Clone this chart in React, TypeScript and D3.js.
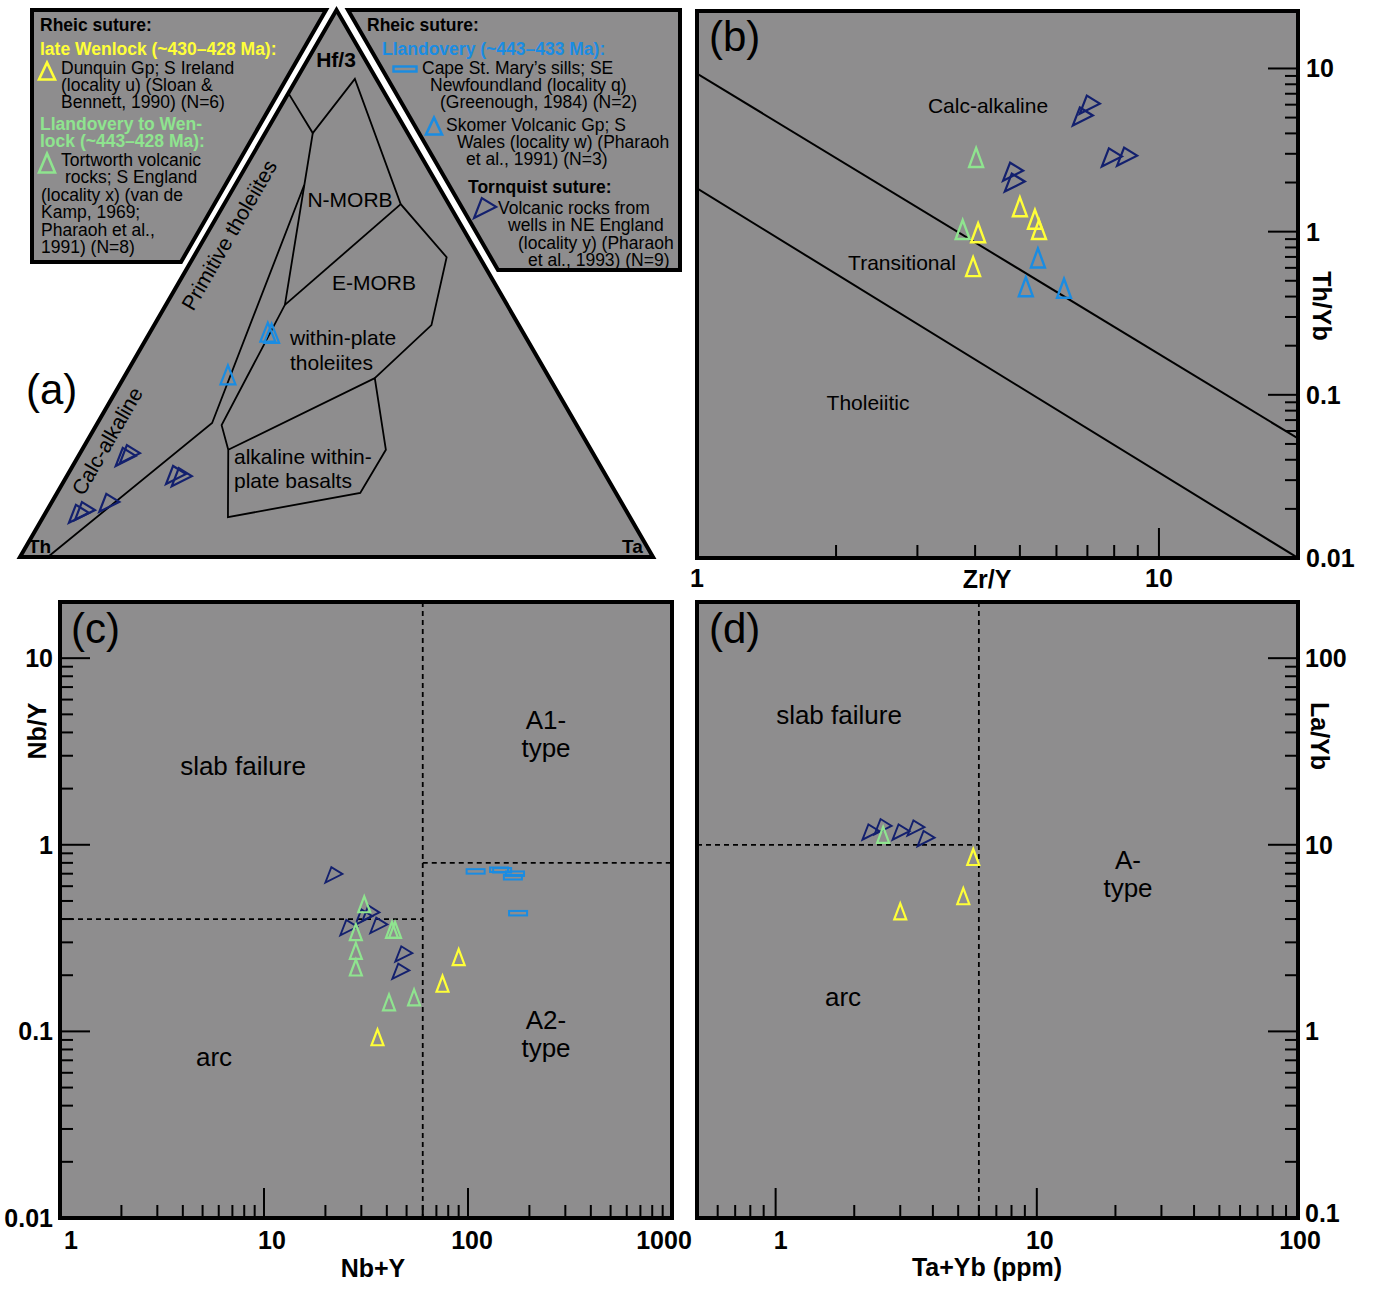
import React from "react";
import * as d3 from "d3";

const FONT = "'Liberation Sans', Arial, Helvetica, sans-serif";
const BG = "#8e8d8e";
const YELLOW = "#ffff38";
const GREEN = "#8fe48f";
const BLUE = "#1a8ce2";
const NAVY = "#13206e";

// ---------- Panel (a): Hf/3 - Th - Ta ternary  [Th, Hf/3, Ta] fractions ----------
const aSkomer = [
  [0.403, 0.411, 0.186],
  [0.398, 0.409, 0.193],
  [0.505, 0.333, 0.162],
];
const aTornquist = [
  [0.743, 0.183, 0.074],
  [0.734, 0.188, 0.078],
  [0.68, 0.15, 0.17],
  [0.673, 0.146, 0.181],
  [0.869, 0.079, 0.052],
  [0.857, 0.084, 0.059],
  [0.811, 0.099, 0.09],
];
// field boundary vertices [Th, Hf/3, Ta]
const aCalcAlkalineLine = [
  [0.956, 0, 0.044],
  [0.574, 0.245, 0.181],
  [0.211, 0.68, 0.109],
];
const aMorbOutline = [
  [0.152, 0.848, 0],
  [0.15, 0.775, 0.075],
  [0.034, 0.874, 0.092],
  [0.076, 0.645, 0.279],
  [0.052, 0.548, 0.4],
  [0.138, 0.424, 0.438],
  [0.276, 0.327, 0.397],
];
const aArcBoundary = [
  [0.15, 0.775, 0.075],
  [0.351, 0.461, 0.188],
  [0.561, 0.241, 0.198],
  [0.573, 0.196, 0.231],
];
const aEmorbBase = [
  [0.076, 0.645, 0.279],
  [0.351, 0.461, 0.188],
];
const aAlkalineBox = [
  [0.573, 0.196, 0.231],
  [0.635, 0.073, 0.292],
  [0.404, 0.117, 0.479],
  [0.324, 0.196, 0.48],
  [0.276, 0.327, 0.397],
  [0.573, 0.196, 0.231],
];

// ---------- Panel (b): Zr/Y vs Th/Yb ----------
const bDunquin = [
  [5.0, 1.42],
  [5.39, 1.19],
  [5.5, 1.03],
  [4.06, 0.985],
  [3.96, 0.61],
];
const bTortworth = [
  [4.02, 2.85],
  [3.76, 1.03],
];
const bSkomer = [
  [5.47, 0.69],
  [5.15, 0.46],
  [6.23, 0.45],
];
const bTornquist = [
  [7.05, 6.0],
  [6.81, 5.08],
  [7.87, 2.85],
  [8.49, 2.88],
  [4.81, 2.33],
  [4.85, 2.0],
];
const bCalcTransLine = [
  [1, 9.3],
  [20, 0.054],
];
const bTransTholLine = [
  [1, 1.84],
  [20, 0.01],
];
const bXLabels = [1, 10];
const bYLabels = [10, 1, 0.1, 0.01];

// ---------- Panel (c): Nb+Y vs Nb/Y ----------
const cDunquin = [
  [90, 0.25],
  [75, 0.18],
  [36, 0.093],
];
const cTortworth = [
  [31, 0.48],
  [28.2, 0.34],
  [28.2, 0.27],
  [28.2, 0.22],
  [42.4, 0.35],
  [43.9, 0.35],
  [54.4, 0.152],
  [41, 0.143],
];
const cCape = [
  [109, 0.72],
  [142, 0.735],
  [147, 0.73],
  [170, 0.7],
  [166, 0.67],
  [176, 0.43],
];
const cTornquist = [
  [21.8, 0.69],
  [25.8, 0.36],
  [30.6, 0.41],
  [33.1, 0.43],
  [36.2, 0.37],
  [48, 0.26],
  [46.4, 0.21],
];
const cSplitX = 60;
const cSplitLow = 0.4;
const cSplitHigh = 0.8;
const cXLabels = ["1", "10", "100", "1000"];
const cYLabels = ["10", "1", "0.1", "0.01"];

// ---------- Panel (d): Ta+Yb vs La/Yb ----------
const dDunquin = [
  [5.71, 8.6],
  [5.23, 5.3],
  [3.0, 4.4],
];
const dTortworth = [[2.58, 11.3]];
const dTornquist = [
  [2.3, 11.7],
  [2.56, 12.5],
  [3.0, 11.7],
  [3.42, 12.3],
  [3.74, 10.8],
];
const dSplitX = 6;
const dSplitY = 10;
const dXLabels = ["1", "10", "100"];
const dYLabels = ["100", "10", "1", "0.1"];

// ---------- helpers ----------
function TriUp({ x, y, w, h, color, sw = 2 }: any) {
  return (
    <path
      d={`M${x},${y - h / 2}L${x + w / 2},${y + h / 2}L${x - w / 2},${y + h / 2}Z`}
      fill="none"
      stroke={color}
      strokeWidth={sw}
      strokeLinejoin="miter"
    />
  );
}
function TriRight({ x, y, s, color = NAVY, sw = 2 }: any) {
  const k = s / 20;
  const pts = [
    [-9, 9],
    [-2, -9],
    [11, -1],
  ].map(([a, b]) => [x + a * k, y + b * k]);
  return (
    <path
      d={`M${pts[0][0]},${pts[0][1]}L${pts[1][0]},${pts[1][1]}L${pts[2][0]},${pts[2][1]}Z`}
      fill="none"
      stroke={color}
      strokeWidth={sw}
    />
  );
}
function RectMark({ x, y, w, h, color = BLUE, sw = 2 }: any) {
  return <rect x={x - w / 2} y={y - h / 2} width={w} height={h} fill="none" stroke={color} strokeWidth={sw} />;
}

function isMajor(v: number) {
  const l = Math.log10(v);
  return Math.abs(l - Math.round(l)) < 1e-6;
}
function innerTicks(scale: any, hi = Infinity) {
  const [d0, d1] = scale.domain();
  return scale
    .ticks()
    .filter((v: number) => v > d0 * 1.0001 && v < d1 * 0.9999 && v <= hi * 1.0001);
}

function T({ x, y, children, size = 17.5, weight = "normal", fill = "#000", anchor = "start", ...rest }: any) {
  return (
    <text x={x} y={y} fontSize={size} fontWeight={weight} fill={fill} textAnchor={anchor} fontFamily={FONT} {...rest}>
      {children}
    </text>
  );
}

export default function App() {
  // ternary scales
  const tY = d3.scaleLinear().domain([0, 1]).range([557, 10]);
  const tX = d3.scaleLinear().domain([0, 1]).range([20, 653]);
  const tern = (p: number[]) => {
    const s = p[0] + p[1] + p[2];
    const hf = p[1] / s;
    const ta = p[2] / s;
    return [tX(ta + hf / 2), tY(hf)] as [number, number];
  };
  const tLine = d3.line<number[]>().x((p) => tern(p)[0]).y((p) => tern(p)[1]);
  const triOutline = [
    [1, 0, 0],
    [0, 0, 1],
    [0, 1, 0],
  ].map(tern);

  // panel b
  const bL = 697, bR = 1298, bT = 11, bB = 558;
  const bx = d3.scaleLog().domain([1, 20]).range([bL, bR]);
  const by = d3.scaleLog().domain([0.01, 22.5]).range([bB, bT]);
  const bLine = d3.line<number[]>().x((d) => bx(d[0])).y((d) => by(d[1]));

  // panel c
  const cL = 60, cR = 672, cT = 602, cB = 1218;
  const cx = d3.scaleLog().domain([1, 1000]).range([cL, cR]);
  const cy = d3.scaleLog().domain([0.01, 20]).range([cB, cT]);

  // panel d
  const dL = 697, dR = 1298, dT = 602, dB = 1218;
  const dx = d3.scaleLog().domain([0.5, 100]).range([dL, dR]);
  const dy = d3.scaleLog().domain([0.1, 200]).range([dB, dT]);

  const MAJ = 30, MIN = 13;

  const xTicksBottom = (scale: any, bottom: number, key: string) =>
    innerTicks(scale).map((v: number, i: number) => (
      <line
        key={key + i}
        x1={scale(v)}
        x2={scale(v)}
        y1={bottom}
        y2={bottom - (isMajor(v) ? MAJ : MIN)}
        stroke="#000"
        strokeWidth={2}
      />
    ));
  const yTicks = (scale: any, edge: number, dir: number, key: string, hi = Infinity) =>
    innerTicks(scale, hi).map((v: number, i: number) => (
      <line
        key={key + i}
        y1={scale(v)}
        y2={scale(v)}
        x1={edge}
        x2={edge + dir * (isMajor(v) ? MAJ : MIN)}
        stroke="#000"
        strokeWidth={2}
      />
    ));

  const dash = "5,4";

  return (
    <svg
      width={1380}
      height={1290}
      style={{ display: "block", position: "absolute", left: 0, top: 0, background: "#fff" }}
      fontFamily={FONT}
    >
      <rect x={0} y={0} width={1380} height={1290} fill="#fff" />

      {/* ================= Panel (a) ================= */}
      <polygon
        points={triOutline.map((p) => p.join(",")).join(" ")}
        fill={BG}
        stroke="#000"
        strokeWidth={4}
        strokeLinejoin="miter"
      />
      {[aCalcAlkalineLine, aMorbOutline, aArcBoundary, aEmorbBase, aAlkalineBox].map((l, i) => (
        <path key={"ab" + i} d={tLine(l) || ""} fill="none" stroke="#000" strokeWidth={1.8} />
      ))}
      {/* left legend box */}
      <polygon points="32,10 326,10 181,262 32,262" fill={BG} stroke="#000" strokeWidth={4} />
      {/* right legend box */}
      <polygon points="348,10 680,10 680,270 498,270" fill={BG} stroke="#000" strokeWidth={4} />

      <T x={336} y={67} size={21} weight="bold" anchor="middle">Hf/3</T>
      <T x={350} y={207} size={21} anchor="middle">N-MORB</T>
      <T x={374} y={290} size={21} anchor="middle">E-MORB</T>
      <T x={290} y={345} size={21}>within-plate</T>
      <T x={290} y={370} size={21}>tholeiites</T>
      <T x={234} y={464} size={21}>alkaline within-</T>
      <T x={234} y={488} size={21}>plate basalts</T>
      <T x={0} y={0} size={21} anchor="middle" dominantBaseline="central" transform="translate(229,235) rotate(-60)">
        Primitive tholeiites
      </T>
      <T x={0} y={0} size={21} anchor="middle" dominantBaseline="central" transform="translate(107,441) rotate(-60)">
        Calc-alkaline
      </T>
      <T x={28} y={553} size={19} weight="bold">Th</T>
      <T x={622} y={553} size={19} weight="bold">Ta</T>
      <T x={26} y={404} size={42}>(a)</T>

      {aSkomer.map((p, i) => {
        const [x, y] = tern(p);
        return <TriUp key={"as" + i} x={x} y={y} w={15} h={19} color={BLUE} sw={2.2} />;
      })}
      {aTornquist.map((p, i) => {
        const [x, y] = tern(p);
        return <TriRight key={"at" + i} x={x} y={y} s={20} sw={2.2} />;
      })}

      {/* left legend text */}
      <T x={40} y={31} weight="bold">Rheic suture:</T>
      <T x={40} y={55} weight="bold" fill={YELLOW}>late Wenlock (~430–428 Ma):</T>
      <TriUp x={47} y={71} w={16} h={17} color={YELLOW} sw={2.6} />
      <T x={61} y={74}>Dunquin Gp; S Ireland</T>
      <T x={61} y={91}>(locality u) (Sloan &amp;</T>
      <T x={61} y={108}>Bennett, 1990) (N=6)</T>
      <T x={40} y={130} weight="bold" fill={GREEN}>Llandovery to Wen-</T>
      <T x={40} y={147} weight="bold" fill={GREEN}>lock (~443–428 Ma):</T>
      <TriUp x={47} y={163} w={16} h={19} color={GREEN} sw={2.6} />
      <T x={61} y={166}>Tortworth volcanic</T>
      <T x={65} y={183}>rocks; S England</T>
      <T x={41} y={201}>(locality x) (van de</T>
      <T x={41} y={218}>Kamp, 1969;</T>
      <T x={41} y={236}>Pharaoh et al.,</T>
      <T x={41} y={253}>1991) (N=8)</T>

      {/* right legend text */}
      <T x={367} y={31} weight="bold">Rheic suture:</T>
      <T x={382} y={55} weight="bold" fill={BLUE}>Llandovery (~443–433 Ma):</T>
      <RectMark x={405} y={69} w={23} h={5} sw={2.4} />
      <T x={422} y={74}>Cape St. Mary’s sills; SE</T>
      <T x={430} y={91}>Newfoundland (locality q)</T>
      <T x={440} y={108}>(Greenough, 1984) (N=2)</T>
      <TriUp x={434} y={126} w={16} h={17} color={BLUE} sw={2.6} />
      <T x={446} y={131}>Skomer Volcanic Gp; S</T>
      <T x={457} y={148}>Wales (locality w) (Pharaoh</T>
      <T x={466} y={165}>et al., 1991) (N=3)</T>
      <T x={468} y={193} weight="bold">Tornquist suture:</T>
      <TriRight x={484} y={208} s={22} sw={2.2} />
      <T x={498} y={214}>Volcanic rocks from</T>
      <T x={508} y={231}>wells in NE England</T>
      <T x={518} y={249}>(locality y) (Pharaoh</T>
      <T x={528} y={266}>et al., 1993) (N=9)</T>

      {/* ================= Panel (b) ================= */}
      <rect x={bL} y={bT} width={bR - bL} height={bB - bT} fill={BG} />
      <defs>
        <clipPath id="clipB">
          <rect x={bL} y={bT} width={bR - bL} height={bB - bT} />
        </clipPath>
      </defs>
      <g clipPath="url(#clipB)">
        <path d={bLine(bCalcTransLine) || ""} stroke="#000" strokeWidth={2} fill="none" />
        <path d={bLine(bTransTholLine) || ""} stroke="#000" strokeWidth={2} fill="none" />
      </g>
      {xTicksBottom(bx, bB, "bxt")}
      {yTicks(by, bR, -1, "byt", 10)}
      <rect x={bL} y={bT} width={bR - bL} height={bB - bT} fill="none" stroke="#000" strokeWidth={4} />
      <T x={709} y={51} size={42}>(b)</T>
      <T x={988} y={113} size={21} anchor="middle">Calc-alkaline</T>
      <T x={902} y={270} size={21} anchor="middle">Transitional</T>
      <T x={868} y={410} size={21} anchor="middle">Tholeiitic</T>

      {bTornquist.map((d, i) => (
        <TriRight key={"bt" + i} x={bx(d[0])} y={by(d[1])} s={20} sw={2.2} />
      ))}
      {bTortworth.map((d, i) => (
        <TriUp key={"bg" + i} x={bx(d[0])} y={by(d[1])} w={14} h={19} color={GREEN} sw={2.4} />
      ))}
      {bDunquin.map((d, i) => (
        <TriUp key={"by" + i} x={bx(d[0])} y={by(d[1])} w={14} h={19} color={YELLOW} sw={2.4} />
      ))}
      {bSkomer.map((d, i) => (
        <TriUp key={"bs" + i} x={bx(d[0])} y={by(d[1])} w={14} h={19} color={BLUE} sw={2.4} />
      ))}

      {bXLabels.map((v) => (
        <T key={"bxl" + v} x={bx(v)} y={587} size={25} weight="bold" anchor="middle">
          {String(v)}
        </T>
      ))}
      {bYLabels.map((v) => (
        <T key={"byl" + v} x={1306} y={by(v)} dy="0.36em" size={25} weight="bold">
          {String(v)}
        </T>
      ))}
      <T x={987} y={588} size={25} weight="bold" anchor="middle">Zr/Y</T>
      <T x={0} y={0} size={25} weight="bold" anchor="middle" dominantBaseline="central" transform="translate(1322,306) rotate(90)">
        Th/Yb
      </T>

      {/* ================= Panel (c) ================= */}
      <rect x={cL} y={cT} width={cR - cL} height={cB - cT} fill={BG} />
      <line x1={cx(cSplitX)} x2={cx(cSplitX)} y1={cT} y2={cB} stroke="#000" strokeWidth={1.8} strokeDasharray={dash} />
      <line x1={cL} x2={cx(cSplitX)} y1={cy(cSplitLow)} y2={cy(cSplitLow)} stroke="#000" strokeWidth={1.8} strokeDasharray={dash} />
      <line x1={cx(cSplitX)} x2={cR} y1={cy(cSplitHigh)} y2={cy(cSplitHigh)} stroke="#000" strokeWidth={1.8} strokeDasharray={dash} />
      {xTicksBottom(cx, cB, "cxt")}
      {yTicks(cy, cL, 1, "cyt")}
      <rect x={cL} y={cT} width={cR - cL} height={cB - cT} fill="none" stroke="#000" strokeWidth={4} />
      <T x={71} y={643} size={42}>(c)</T>
      <T x={243} y={775} size={26} anchor="middle">slab failure</T>
      <T x={546} y={729} size={26} anchor="middle">A1-</T>
      <T x={546} y={757} size={26} anchor="middle">type</T>
      <T x={214} y={1066} size={26} anchor="middle">arc</T>
      <T x={546} y={1029} size={26} anchor="middle">A2-</T>
      <T x={546} y={1057} size={26} anchor="middle">type</T>

      {cCape.map((d, i) => (
        <RectMark key={"cc" + i} x={cx(d[0])} y={cy(d[1])} w={18} h={4.5} sw={2} />
      ))}
      {cTornquist.map((d, i) => (
        <TriRight key={"ct" + i} x={cx(d[0])} y={cy(d[1])} s={17} sw={1.9} />
      ))}
      {cTortworth.map((d, i) => (
        <TriUp key={"cg" + i} x={cx(d[0])} y={cy(d[1])} w={12} h={16} color={GREEN} sw={2.2} />
      ))}
      {cDunquin.map((d, i) => (
        <TriUp key={"cy" + i} x={cx(d[0])} y={cy(d[1])} w={12} h={16} color={YELLOW} sw={2.2} />
      ))}

      {cXLabels.map((s, i) => {
        const off = [11, 8, 4, -8][i];
        return (
          <T key={"cxl" + s} x={cx(+s) + off} y={1249} size={25} weight="bold" anchor="middle">
            {s}
          </T>
        );
      })}
      {cYLabels.map((s) => (
        <T key={"cyl" + s} x={53} y={cy(+s)} dy="0.36em" size={25} weight="bold" anchor="end">
          {s}
        </T>
      ))}
      <T x={373} y={1277} size={25} weight="bold" anchor="middle">Nb+Y</T>
      <T x={0} y={0} size={25} weight="bold" anchor="middle" dominantBaseline="central" transform="translate(37,731) rotate(-90)">
        Nb/Y
      </T>

      {/* ================= Panel (d) ================= */}
      <rect x={dL} y={dT} width={dR - dL} height={dB - dT} fill={BG} />
      <line x1={dx(dSplitX)} x2={dx(dSplitX)} y1={dT} y2={dB} stroke="#000" strokeWidth={1.8} strokeDasharray={dash} />
      <line x1={dL} x2={dx(dSplitX)} y1={dy(dSplitY)} y2={dy(dSplitY)} stroke="#000" strokeWidth={1.8} strokeDasharray={dash} />
      {xTicksBottom(dx, dB, "dxt")}
      {yTicks(dy, dR, -1, "dyt")}
      <rect x={dL} y={dT} width={dR - dL} height={dB - dT} fill="none" stroke="#000" strokeWidth={4} />
      <T x={709} y={643} size={42}>(d)</T>
      <T x={839} y={724} size={26} anchor="middle">slab failure</T>
      <T x={843} y={1006} size={26} anchor="middle">arc</T>
      <T x={1128} y={869} size={26} anchor="middle">A-</T>
      <T x={1128} y={897} size={26} anchor="middle">type</T>

      {dTornquist.map((d, i) => (
        <TriRight key={"dt" + i} x={dx(d[0])} y={dy(d[1])} s={17} sw={1.9} />
      ))}
      {dTortworth.map((d, i) => (
        <TriUp key={"dg" + i} x={dx(d[0])} y={dy(d[1])} w={12} h={16} color={GREEN} sw={2.2} />
      ))}
      {dDunquin.map((d, i) => (
        <TriUp key={"dy" + i} x={dx(d[0])} y={dy(d[1])} w={12} h={16} color={YELLOW} sw={2.2} />
      ))}

      {dXLabels.map((s, i) => {
        const off = [5, 3, 2][i];
        return (
          <T key={"dxl" + s} x={dx(+s) + off} y={1249} size={25} weight="bold" anchor="middle">
            {s}
          </T>
        );
      })}
      {dYLabels.map((s, i) => (
        <T key={"dyl" + s} x={1305} y={dy(+s) - (i === 3 ? 5 : 0)} dy="0.36em" size={25} weight="bold">
          {s}
        </T>
      ))}
      <T x={987} y={1276} size={25} weight="bold" anchor="middle">Ta+Yb (ppm)</T>
      <T x={0} y={0} size={25} weight="bold" anchor="middle" dominantBaseline="central" transform="translate(1320,736) rotate(90)">
        La/Yb
      </T>
    </svg>
  );
}
